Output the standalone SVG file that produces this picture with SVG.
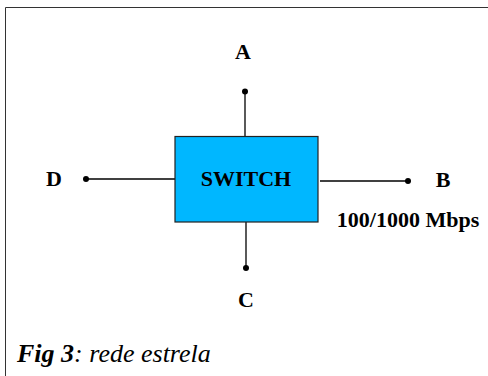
<svg xmlns="http://www.w3.org/2000/svg" width="488" height="376" viewBox="0 0 488 376">
<style>
.lbl{font-family:"Liberation Serif",serif;font-weight:bold;font-size:22px;fill:#000}
.ln{stroke:#000;stroke-width:1.3;fill:none}
.dot{fill:#000}
</style>
<rect width="488" height="376" fill="#fff"/>
<path d="M5.5,376 V7.5 H488" fill="none" stroke="#333" stroke-width="1"/>
<g id="connectors">
<line class="ln" x1="245" y1="91.5" x2="245" y2="136"/>
<line class="ln" x1="86" y1="179" x2="175" y2="179"/>
<line class="ln" x1="320" y1="181" x2="408" y2="181"/>
<line class="ln" x1="246" y1="222" x2="246" y2="268"/>
</g>
<g id="switch">
<rect x="175" y="136.5" width="143" height="85.5" fill="#00b7ff" stroke="#222" stroke-width="1.2"/>
<text class="lbl" x="246" y="186" text-anchor="middle">SWITCH</text>
</g>
<g id="A">
<circle class="dot" cx="245" cy="91.5" r="3"/>
<text class="lbl" x="243" y="59" text-anchor="middle">A</text>
</g>
<g id="D">
<circle class="dot" cx="86" cy="179" r="3"/>
<text class="lbl" x="54" y="186" text-anchor="middle">D</text>
</g>
<g id="B">
<circle class="dot" cx="408" cy="181" r="3"/>
<text class="lbl" x="443" y="187" text-anchor="middle">B</text>
<text class="lbl" x="408" y="227" text-anchor="middle" font-size="22.5px">100/1000 Mbps</text>
</g>
<g id="C">
<circle class="dot" cx="246" cy="268" r="3"/>
<text class="lbl" x="246" y="307" text-anchor="middle">C</text>
</g>
<text x="17" y="362" font-family="'Liberation Serif',serif" font-style="italic" font-size="26px"><tspan font-weight="bold">Fig 3</tspan>: rede estrela</text>
</svg>
